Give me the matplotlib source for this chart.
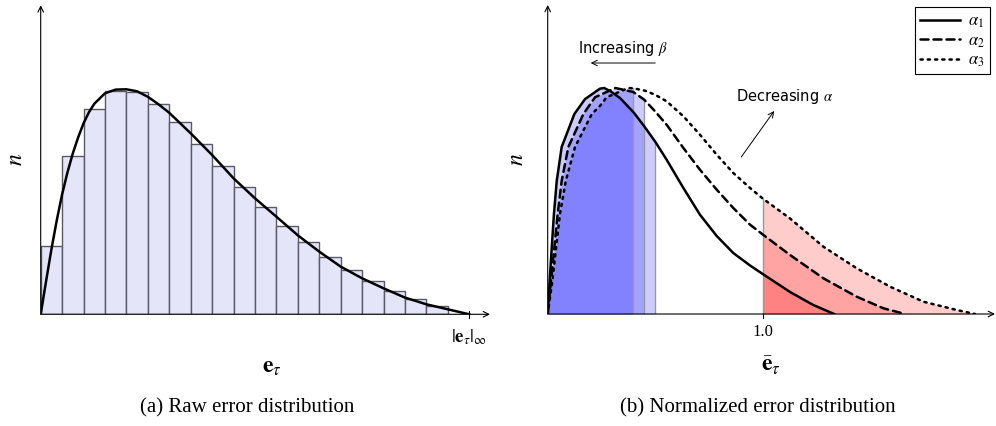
import numpy as np
import matplotlib
matplotlib.use("Agg")
import matplotlib.pyplot as plt

plt.rcParams['mathtext.fontset'] = 'stix'
plt.rcParams['font.family'] = ['DejaVu Sans']

# --- (a) raw error histogram: bar heights per bin (20 bins, last one empty)
bin_heights = [68, 158.7, 205.7, 223.3, 222.7, 210.3, 192, 170.7, 148.7, 127,
               107, 88.7, 72, 57.5, 44.7, 33.5, 23.8, 15.7, 8.5]
# fitted curve (x in bin widths)
raw_x = [0, 0.25, 0.5, 0.75, 1.0, 1.25, 1.5, 1.75, 2.0, 2.25, 2.5, 3.0, 3.5, 4.0,
         4.5, 5.0, 5.5, 6.0, 7.0, 8.0, 9.0, 10.0, 11.0, 12.0, 13.0, 14.0, 15.0,
         16.0, 17.0, 18.0, 19.0, 20.0]
raw_y = [0, 33, 65, 94, 120, 142, 161, 177, 191, 202, 210.5, 221, 224.7, 225,
         223, 217.5, 210, 201.5, 181, 159.3, 136, 116, 97.6, 79, 62.7, 47.7, 36,
         26, 16.7, 10, 5, 0]

# --- (b) normalized error curves for alpha_1..alpha_3
a1_x = [0, 0.009, 0.019, 0.029, 0.042, 0.065, 0.124, 0.174, 0.243, 0.262, 0.29,
        0.336, 0.398, 0.449, 0.501, 0.553, 0.631, 0.708, 0.786, 0.863, 0.941, 1.0,
        1.127, 1.235, 1.332]
a1_y = [0, 33, 67, 100, 133, 167, 200, 215, 225.3, 226, 223, 216, 202, 187.7, 172,
        154.3, 126, 99.3, 78, 61, 48.5, 40, 22, 9, 0]
a2_x = [0, 0.0155, 0.0465, 0.065, 0.096, 0.166, 0.22, 0.315, 0.398, 0.449, 0.499,
        0.553, 0.631, 0.708, 0.786, 0.863, 0.941, 1.0, 1.127, 1.282, 1.437, 1.561,
        1.662]
a2_y = [0, 33.3, 100, 133, 167, 200, 216.7, 226, 222, 214.3, 202.7, 189.3, 166,
        144.3, 124.3, 106, 89.3, 79.5, 59, 35.7, 17.3, 5.7, 0]
a3_x = [0, 0.0217, 0.057, 0.084, 0.127, 0.205, 0.243, 0.274, 0.375, 0.398, 0.453,
        0.499, 0.553, 0.631, 0.708, 0.786, 0.863, 0.941, 1.0, 1.127, 1.282, 1.437,
        1.592, 1.747, 1.902, 1.987]
a3_y = [0, 33.3, 100, 133, 167, 200, 208, 216.7, 226, 225.7, 223.3, 219.3, 212.7,
        197.7, 179.3, 159.3, 141, 126, 115.5, 95.5, 67.3, 45.7, 27.3, 12.3, 4, 0]
beta_cut = [0.501, 0.449, 0.398]   # blue region limit for each curve
norm_cut = 1.0

fig = plt.figure(figsize=(9.96, 4.26), dpi=100)

def bare_axes(rect, xmax):
    ax = fig.add_axes(rect)
    ax.set_xlim(0, xmax)
    ax.set_ylim(0, 309)
    for s in ax.spines.values():
        s.set_visible(False)
    ax.set_xticks([])
    ax.set_yticks([])
    ax.patch.set_alpha(0)
    arr = dict(arrowstyle='->', lw=0.8, color='black', shrinkA=0, shrinkB=0)
    ax.annotate('', xy=(1, 0), xytext=(0, 0), xycoords='axes fraction', arrowprops=arr)
    ax.annotate('', xy=(0, 1), xytext=(0, 0), xycoords='axes fraction', arrowprops=arr)
    return ax

# ---------------- left panel
ax1 = bare_axes([40.7 / 996, 111.7 / 426, 449.3 / 996, 309 / 426], 20.97)
edges = np.arange(len(bin_heights))
ax1.bar(edges, bin_heights, width=1.0, align='edge', color='#e5e5fa',
        edgecolor='#5a5a66', linewidth=1.0)
ax1.plot(raw_x, raw_y, color='black', lw=1.8, solid_joinstyle='round')
ax1.plot([20, 20], [-3.5, 3.5], color='black', lw=0.8, clip_on=False)
ax1.text(20, -23, r'$|\mathbf{e}_\tau|_\infty$', ha='center', va='center', fontsize=13.5)
ax1.text(-26 / 21.43, 155, r'$n$', rotation=90, ha='center', va='center', fontsize=17)
ax1.text(231 / 21.43, -52, r'$\mathbf{e}_\tau$', ha='center', va='center', fontsize=17)
fig.text(247 / 996, 1 - 408 / 426, '(a) Raw error distribution', ha='center',
         va='center', fontsize=15, family='Liberation Serif')

# ---------------- right panel
ax2 = bare_axes([547.7 / 996, 112 / 426, 447.3 / 996, 309 / 426], 2.08)
curves = [(a1_x, a1_y, '-', r'$\alpha_1$'),
          (a2_x, a2_y, (0, (3.2, 2.0)), r'$\alpha_2$'),
          (a3_x, a3_y, (0, (0.9, 2.0)), r'$\alpha_3$')]
for (cx, cy, ls, lab), cut in zip(curves, beta_cut):
    cx = np.array(cx)
    cy = np.array(cy)
    m = cx <= cut + 1e-9
    ax2.fill_between(cx[m], 0, cy[m], color='blue', alpha=0.2, lw=0)
    ax2.plot([cx[m][-1]] * 2, [0, cy[m][-1]], color='#999999', lw=1.0)
    r = cx >= norm_cut - 1e-9
    ax2.fill_between(cx[r], 0, cy[r], color='red', alpha=0.2, lw=0)
ax2.plot([1.0, 1.0], [0, a3_y[a3_x.index(1.0)]], color='#999999', lw=1.0)
for cx, cy, ls, lab in curves:
    ax2.plot(cx, cy, color='black', lw=1.8, linestyle=ls, label=lab,
             solid_joinstyle='round', dash_capstyle='round')
ax2.plot([1.0, 1.0], [-3.5, 0], color='black', lw=0.8, clip_on=False)
ax2.text(1.0, -18, '1.0', ha='center', va='center', fontsize=12, family='Liberation Serif')
ax2.text(-32 / 215, 155, r'$n$', rotation=90, ha='center', va='center', fontsize=17)
ax2.text(1.04, -51, r'$\bar{\mathbf{e}}_\tau$', ha='center', va='center', fontsize=17)
ax2.text(0.35, 265, r'Increasing $\beta$', ha='center', va='center', fontsize=10.5)
ax2.annotate('', xy=(0.2, 251), xytext=(0.5, 251),
             arrowprops=dict(arrowstyle='->', lw=0.7, color='black', shrinkA=0, shrinkB=0))
ax2.text(1.1, 218, r'Decreasing $\alpha$', ha='center', va='center', fontsize=10.5)
ax2.annotate('', xy=(1.053, 203), xytext=(0.9, 157),
             arrowprops=dict(arrowstyle='->', lw=0.7, color='black', shrinkA=0, shrinkB=0))
leg = ax2.legend(loc='upper right', bbox_to_anchor=(990 / 996, 1 - 7 / 426),
                 bbox_transform=fig.transFigure, fancybox=False, edgecolor='black',
                 framealpha=1, borderaxespad=0, handlelength=2.4, fontsize=12,
                 labelspacing=0.05, borderpad=0.3, handletextpad=0.5)
leg.get_frame().set_linewidth(0.8)
fig.text(758 / 996, 1 - 408 / 426, '(b) Normalized error distribution', ha='center',
         va='center', fontsize=15, family='Liberation Serif')

fig.savefig('out.png', dpi=100)
